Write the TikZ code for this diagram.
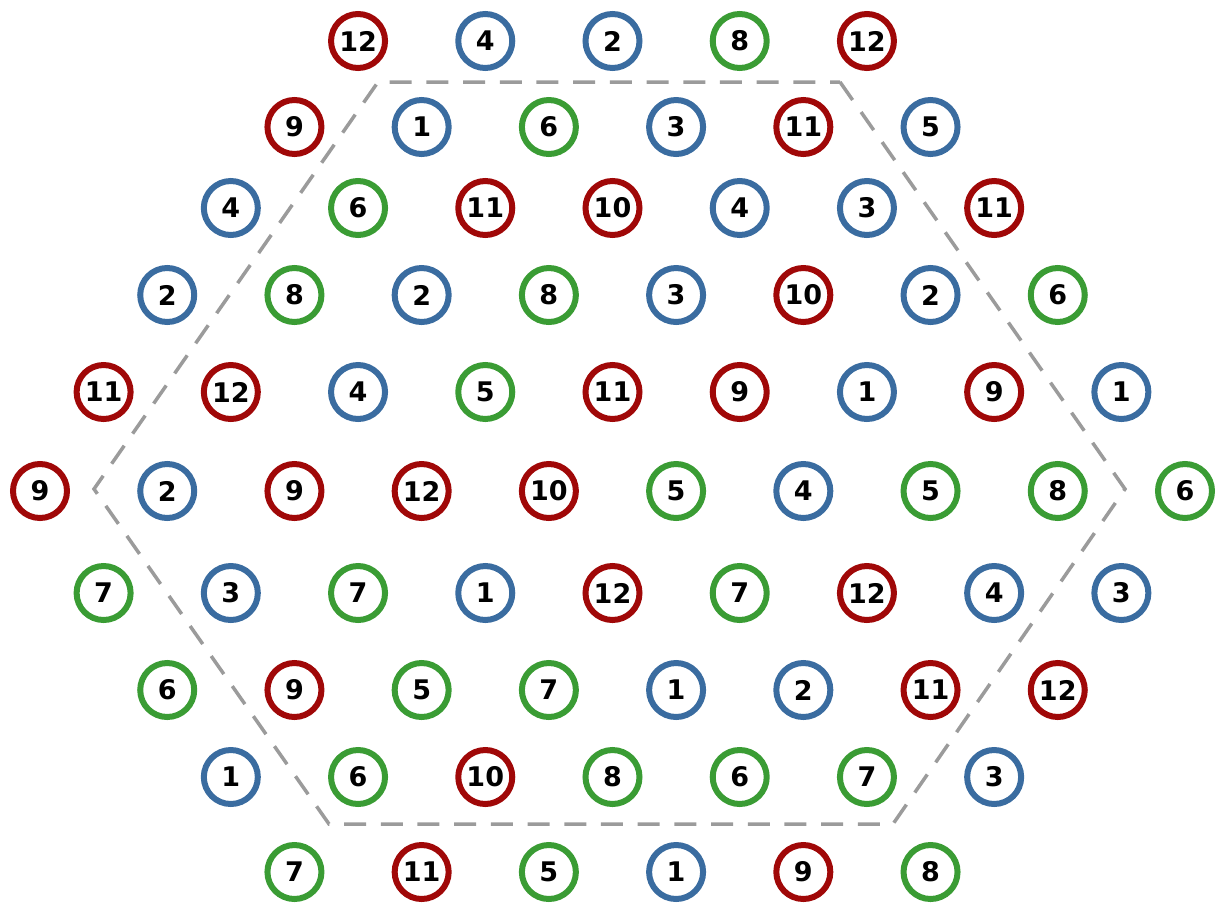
\documentclass[tikz,border=0pt]{standalone}
\usepackage{fontspec}
\setmainfont{DejaVu Sans}
\definecolor{cR}{RGB}{160,8,8}
\definecolor{cB}{RGB}{58,108,160}
\definecolor{cG}{RGB}{58,156,52}
\definecolor{hexgray}{RGB}{155,155,155}
\begin{document}
\begin{tikzpicture}[x=1pt,y=-1pt,
  disc/.style={circle, draw=#1, line width=6pt, minimum size=54pt, inner sep=0pt,
    font=\fontsize{27}{27}\selectfont\bfseries, text=black},
  hexline/.style={draw=hexgray, line width=3.5pt, dash pattern=on 22pt off 14.7pt}]
\useasboundingbox (0,0) rectangle (1218,903);
% hexagon outline
\coordinate (h1) at (378,82);
\coordinate (h2) at (840,82);
\coordinate (h3) at (1125,489);
\coordinate (h4) at (893,824);
\coordinate (h5) at (329,824);
\coordinate (h6) at (94,489);
\draw[hexline] (h2) -- (h3) -- (h4) -- (h5) -- (h6) -- (h1) -- cycle;
% circles
\foreach \r/\y/\items in {
  1/41/{5/12/cR,7/4/cB,9/2/cB,11/8/cG,13/12/cR},
  2/127/{4/9/cR,6/1/cB,8/6/cG,10/3/cB,12/11/cR,14/5/cB},
  3/208/{3/4/cB,5/6/cG,7/11/cR,9/10/cR,11/4/cB,13/3/cB,15/11/cR},
  4/295/{2/2/cB,4/8/cG,6/2/cB,8/8/cG,10/3/cB,12/10/cR,14/2/cB,16/6/cG},
  5/392/{1/11/cR,3/12/cR,5/4/cB,7/5/cG,9/11/cR,11/9/cR,13/1/cB,15/9/cR,17/1/cB},
  6/491/{0/9/cR,2/2/cB,4/9/cR,6/12/cR,8/10/cR,10/5/cG,12/4/cB,14/5/cG,16/8/cG,18/6/cG},
  7/593/{1/7/cG,3/3/cB,5/7/cG,7/1/cB,9/12/cR,11/7/cG,13/12/cR,15/4/cB,17/3/cB},
  8/690/{2/6/cG,4/9/cR,6/5/cG,8/7/cG,10/1/cB,12/2/cB,14/11/cR,16/12/cR},
  9/777/{3/1/cB,5/6/cG,7/10/cR,9/8/cG,11/6/cG,13/7/cG,15/3/cB},
  10/872/{4/7/cG,6/11/cR,8/5/cG,10/1/cB,12/9/cR,14/8/cG}}
{
  \foreach \k/\n/\c in \items {
    \node[disc=\c] (c-\r-\k) at ({40+63.61*\k},\y) {\n};
  }
}
\end{tikzpicture}
\end{document}
